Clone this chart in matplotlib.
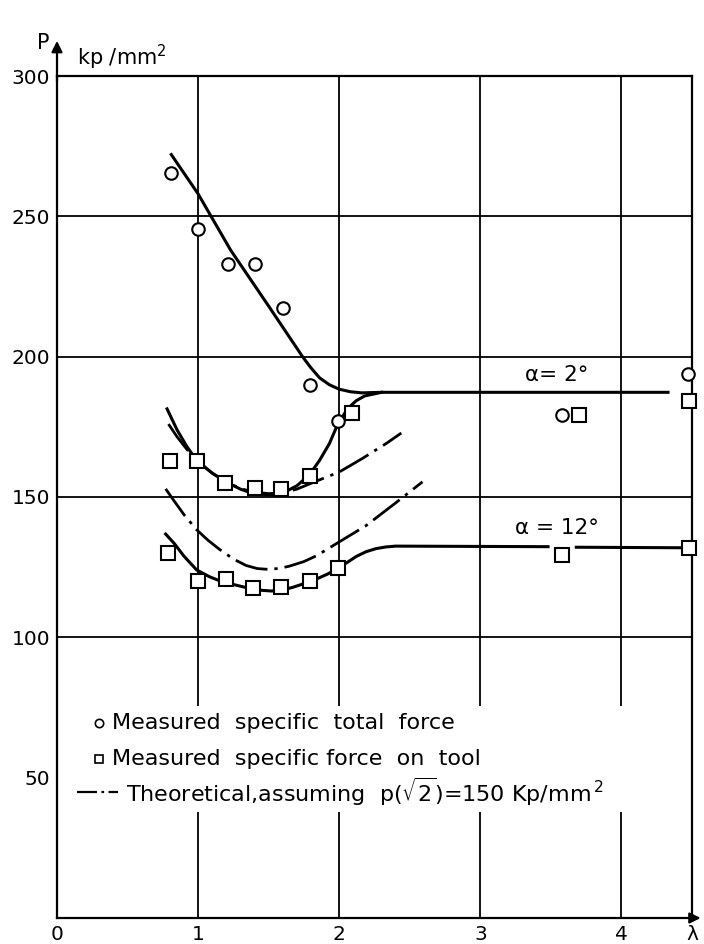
import numpy as np
import matplotlib
matplotlib.use("Agg")
import matplotlib.pyplot as plt

plt.rcParams['font.family'] = ['DejaVu Sans']

# grille et graduations
x_grid = [1, 2, 3, 4]
y_grid = [100, 150, 200, 250]
x_ticks = [0, 1, 2, 3, 4, 4.5]
x_tick_labels = ['0', '1', '2', '3', '4', 'λ']
y_ticks = [50, 100, 150, 200, 250, 300]
y_tick_labels = ['50', '100', '150', '200', '250', '300']

# points mesures : force totale (cercles), alpha = 2 deg
tot_x = [0.81, 1.0, 1.21, 1.40, 1.60, 1.79, 1.99, 3.58, 4.47]
tot_y = [265.4, 245.4, 232.9, 232.9, 217.5, 190.0, 177.0, 179.3, 193.9]

# points mesures : force sur l'outil (carres), alpha = 2 deg
tool2_x = [0.80, 0.99, 1.19, 1.40, 1.59, 1.79, 2.09, 3.70, 4.48]
tool2_y = [162.9, 162.9, 155.0, 153.2, 152.9, 157.5, 180.0, 179.3, 184.3]

# points mesures : force sur l'outil (carres), alpha = 12 deg
tool12_x = [0.79, 1.0, 1.20, 1.39, 1.59, 1.79, 1.99, 3.58, 4.48]
tool12_y = [130.0, 120.0, 120.7, 117.5, 117.9, 120.0, 124.6, 129.3, 131.8]

# courbes tracees a la main
c_tot2_x = [0.81, 1.0, 1.23, 1.5, 1.74, 1.80, 1.86, 1.93, 2.0, 2.08, 2.16, 2.3, 4.33]
c_tot2_y = [272, 258, 238, 218, 200, 196, 192.5, 190, 188.4, 187.5, 187.1, 187.3, 187.3]

c_tool2_x = [0.78, 0.85, 0.92, 0.99, 1.1, 1.2, 1.3, 1.38, 1.45, 1.52, 1.6, 1.7, 1.79, 1.86, 1.93,
             1.99, 2.06, 2.12, 2.18, 2.3]
c_tool2_y = [181.4, 174, 168, 163, 158.5, 155.3, 152.8, 151.4, 150.8, 150.7, 151.4, 154, 158, 163,
             169, 176, 181.5, 184.3, 186, 187.3]

c_th2_x = [0.79, 0.85, 0.92, 0.99, 1.1, 1.2, 1.3, 1.4, 1.5, 1.6, 1.7, 1.84, 2.0, 2.16, 2.34, 2.44]
c_th2_y = [176, 171.5, 167, 163, 158.5, 155.3, 153, 151.7, 151.2, 151.5, 152.8, 155.7, 158.9, 163.6,
           169.3, 172.8]

c_th12_x = [0.77, 0.83, 0.9, 0.99, 1.07, 1.15, 1.25, 1.34, 1.42, 1.5, 1.58, 1.65, 1.75, 1.84, 2.0,
            2.19, 2.4, 2.59]
c_th12_y = [152.9, 148.6, 143.7, 138.3, 134.6, 131.4, 127.9, 125.6, 124.5, 124.2, 124.6, 125.4, 127.0,
            129.1, 134.0, 139.8, 147.9, 155.4]

c_tool12_x = [0.77, 0.83, 0.9, 0.99, 1.08, 1.16, 1.26, 1.36, 1.44, 1.52, 1.6, 1.67, 1.76, 1.84,
              1.92, 1.99, 2.06, 2.12, 2.19, 2.26, 2.33, 2.4, 3.48, np.nan, 3.68, 4.5]
c_tool12_y = [136.8, 133.5, 128.9, 124.0, 121.6, 120.0, 118.7, 117.5, 116.8, 116.5, 116.9, 117.8,
              119.3, 120.8, 122.6, 124.6, 126.8, 128.8, 130.5, 131.6, 132.2, 132.5, 132.3, np.nan,
              132.1, 131.9]

fig = plt.figure(figsize=(7.04, 9.44), dpi=100)
ax = fig.add_axes([57 / 704, 26 / 944, 635 / 704, 842 / 944])
ax.set_xlim(0, 4.5)
ax.set_ylim(0, 300)

for s in ax.spines.values():
    s.set_linewidth(1.6)
    s.set_color('black')

for gx in x_grid:
    ax.axvline(gx, color='black', lw=1.3, zorder=1)
for gy in y_grid:
    ax.axhline(gy, color='black', lw=1.3, zorder=1)

# zone blanche derriere la legende
ax.axhspan(37.7, 75.7, color='white', zorder=1.5, lw=0)

ax.set_xticks(x_ticks)
ax.set_xticklabels(x_tick_labels, fontsize=14.5)
ax.set_yticks(y_ticks)
ax.set_yticklabels(y_tick_labels, fontsize=14.5)
ax.tick_params(length=0, pad=5)

lw = 2.2
dd = (12, 2.5, 1.2, 2.5)
ax.plot(c_tot2_x, c_tot2_y, color='black', lw=lw, zorder=3)
ax.plot(c_tool2_x, c_tool2_y, color='black', lw=lw, zorder=3)
ax.plot(c_tool12_x, c_tool12_y, color='black', lw=lw, zorder=3)
ax.plot(c_th2_x, c_th2_y, color='black', lw=2.0, dashes=dd, zorder=3)
ax.plot(c_th12_x, c_th12_y, color='black', lw=2.0, dashes=dd, zorder=3)

mk = dict(ls='none', mfc='white', mec='black', mew=1.5, zorder=4, clip_on=False)
ax.plot(tot_x, tot_y, marker='o', ms=9, **mk)
ax.plot(tool2_x, tool2_y, marker='s', ms=9.5, **mk)
ax.plot(tool12_x, tool12_y, marker='s', ms=9.5, **mk)

ax.text(3.54, 193.5, 'α= 2°', fontsize=15.5, ha='center', va='center', zorder=5)
ax.text(3.54, 139, 'α = 12°', fontsize=15.5, ha='center', va='center', zorder=5)

# legende dessinee a la main
ax.plot([0.30], [69.3], marker='o', ms=6, mfc='white', mec='black', mew=1.2, zorder=4)
ax.plot([0.30], [56.5], marker='s', ms=6, mfc='white', mec='black', mew=1.2, zorder=4)
ax.plot([0.14, 0.43], [44.8, 44.8], color='black', lw=1.6, dashes=(9, 2, 1.2, 2), zorder=4)
ax.text(0.39, 69.3, 'Measured  specific  total  force', fontsize=16, va='center', zorder=5)
ax.text(0.39, 56.5, 'Measured  specific force  on  tool', fontsize=16, va='center', zorder=5)
ax.text(0.49, 44.8, 'Theoretical,assuming  p($\\sqrt{2}$)=150 Kp/mm$^{\\,2}$', fontsize=16,
        va='center', zorder=5)

# fleches des axes
ax.annotate('', xy=(0, 1.045), xytext=(0, 0.99), xycoords='axes fraction',
            arrowprops=dict(arrowstyle='-|>', lw=1.6, color='black', mutation_scale=16),
            annotation_clip=False)
ax.annotate('', xy=(1.018, 0), xytext=(0.99, 0), xycoords='axes fraction',
            arrowprops=dict(arrowstyle='-|>', lw=1.6, color='black', mutation_scale=16),
            annotation_clip=False)

fig.text(43 / 704, 1 - 43 / 944, 'P', fontsize=15, ha='center', va='center')
fig.text(77 / 704, 1 - 57 / 944, 'kp /mm$^2$', fontsize=15, ha='left', va='center')

fig.savefig('out.png', dpi=100)
